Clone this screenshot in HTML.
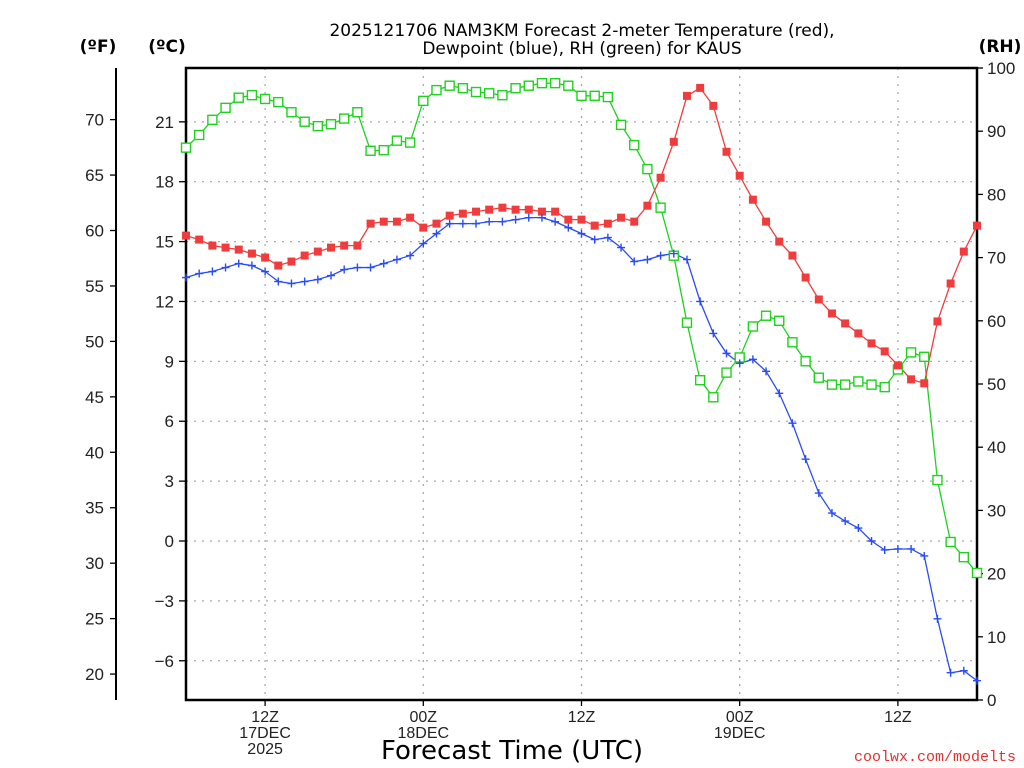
<!DOCTYPE html>
<html><head><meta charset="utf-8"><style>
html,body{margin:0;padding:0;background:#fff;}
svg{display:block;font-family:"DejaVu Sans","Liberation Sans",sans-serif;}
</style></head><body>
<svg id="chart" width="1024" height="768" viewBox="0 0 1024 768" xmlns="http://www.w3.org/2000/svg">
<text x="582" y="36" text-anchor="middle" font-size="17" fill="#000">2025121706 NAM3KM Forecast 2-meter Temperature (red),</text>
<text x="582" y="54" text-anchor="middle" font-size="17" fill="#000">Dewpoint (blue), RH (green) for KAUS</text>
<text x="98" y="52" text-anchor="middle" font-size="17" font-weight="bold">(ºF)</text>
<text x="167" y="52" text-anchor="middle" font-size="17" font-weight="bold">(ºC)</text>
<text x="1000" y="52" text-anchor="middle" font-size="17" font-weight="bold">(RH)</text>
<text x="512" y="759" text-anchor="middle" font-size="26" fill="#000">Forecast Time (UTC)</text>
<text x="1016" y="761" text-anchor="end" font-size="15" fill="#e03030" font-family="Liberation Mono, monospace">coolwx.com/modelts</text>
<g id="grid"></g>
<g id="axes" font-family="Liberation Sans, sans-serif"></g>
<g id="series"></g>
</svg>
<script>
const tempC = [15.3,15.1,14.8,14.7,14.6,14.4,14.2,13.8,14.0,14.3,14.5,14.7,14.8,14.8,15.9,16.0,16.0,16.2,15.7,15.9,16.3,16.4,16.5,16.6,16.7,16.6,16.6,16.5,16.5,16.1,16.1,15.8,15.9,16.2,16.0,16.8,18.2,20.0,22.3,22.7,21.8,19.5,18.3,17.1,16.0,15.0,14.3,13.2,12.1,11.4,10.9,10.4,9.9,9.5,8.8,8.1,7.9,11.0,12.9,14.5,15.8];
const dewC = [13.2,13.4,13.5,13.7,13.9,13.8,13.5,13.0,12.9,13.0,13.1,13.3,13.6,13.7,13.7,13.9,14.1,14.3,14.9,15.4,15.9,15.9,15.9,16.0,16.0,16.1,16.2,16.2,16.0,15.7,15.4,15.1,15.2,14.7,14.0,14.1,14.3,14.4,14.1,12.0,10.4,9.4,8.9,9.1,8.5,7.4,5.9,4.1,2.4,1.4,1.0,0.65,0.0,-0.45,-0.4,-0.4,-0.75,-3.9,-6.6,-6.5,-7.0];
const rh = [87.4,89.4,91.8,93.7,95.3,95.7,95.1,94.6,93.0,91.5,90.8,91.1,92.0,93.0,86.9,87.0,88.5,88.2,94.8,96.5,97.2,96.8,96.2,96.0,95.7,96.8,97.2,97.6,97.6,97.2,95.6,95.6,95.4,91.0,87.8,84.0,77.9,70.3,59.7,50.6,47.9,51.8,54.2,59.1,60.8,60.0,56.6,53.6,51.0,49.9,49.9,50.4,49.9,49.5,52.3,55.0,54.3,34.8,25.0,22.6,20.1];
const cTicks = [21,18,15,12,9,6,3,0,-3,-6];
const fTicks = [70,65,60,55,50,45,40,35,30,25,20];
const rhTicks = [100,90,80,70,60,50,40,30,20,10,0];
const timeTicks = [6,18,30,42,54];
const timeLabels = [["12Z","17DEC","2025"],["00Z","18DEC"],["12Z"],["00Z","19DEC"],["12Z"]];

const X0=186,X1=977,Y0=68,Y1=700;
const xS = h => X0 + (X1-X0)*h/60;
const yC = c => 541 - 19.96*c;
const yRH = r => Y1 - (Y1-Y0)*r/100;
const fToC = f => (f-32)*5/9;
const NS="http://www.w3.org/2000/svg";
function mk(tag, attrs, parent){const e=document.createElementNS(NS,tag);for(const k in attrs)e.setAttribute(k,attrs[k]);parent.appendChild(e);return e;}
const grid=document.getElementById('grid'), axes=document.getElementById('axes'), series=document.getElementById('series');

cTicks.forEach(c=>{
  const y=yC(c);
  const g=mk('line',{x1:X0,x2:X1,y1:y,y2:y,stroke:'#aaa','stroke-dasharray':'2 6','stroke-width':1.3},grid);
  
  
  const t=mk('line',{x1:X0-7,x2:X0,y1:y,y2:y,stroke:'#000','stroke-width':1.3},axes);
  
  
  const l=mk('text',{x:X0-12,y:y+6,'text-anchor':'end','font-size':17,fill:'#222'},axes);
  l.textContent=(c<0?'\u2212'+(-c):c);
  
  
});
timeTicks.forEach((h,i)=>{
  const x=xS(h);
  const g=mk('line',{x1:x,x2:x,y1:Y0,y2:Y1,stroke:'#aaa','stroke-dasharray':'2 6','stroke-width':1.3},grid);
  
  
  const t=mk('line',{x1:x,x2:x,y1:Y1,y2:Y1+6,stroke:'#000','stroke-width':1.3},axes);
  
  
  timeLabels[i].forEach((s,j)=>{
    const l=mk('text',{x:x,y:722+j*16,'text-anchor':'middle','font-size':16,fill:'#222'},axes);
    l.textContent=s;
    
    
  });
});
fTicks.forEach(f=>{
  const y=yC(fToC(f));
  const t=mk('line',{x1:110,x2:116,y1:y,y2:y,stroke:'#000','stroke-width':1.3},axes);
  
  
  const l=mk('text',{x:104,y:y+6,'text-anchor':'end','font-size':17,fill:'#222'},axes);
  l.textContent=f;
  
  
});
rhTicks.forEach(r=>{
  const y=yRH(r);
  const t=mk('line',{x1:X1,x2:X1+6,y1:y,y2:y,stroke:'#000','stroke-width':1.3},axes);
  
  
  const l=mk('text',{x:X1+10,y:y+6,'text-anchor':'start','font-size':17,fill:'#222'},axes);
  l.textContent=r;
  
  
});
const fax=mk('line',{x1:116,x2:116,y1:Y0,y2:Y1,stroke:'#000','stroke-width':2},axes);


const box=mk('rect',{x:X0,y:Y0,width:X1-X0,height:Y1-Y0,fill:'none',stroke:'#000','stroke-width':2.5},axes);



function line(vals,yf,color,name){
  const p=mk('polyline',{points:vals.map((v,i)=>xS(i)+','+yf(v)).join(' '),fill:'none',stroke:color,'stroke-width':1.3},series);
  
  
}
line(rh,yRH,'#1ed21e','rh');
line(tempC,yC,'#f03c3c','temperature');
line(dewC,yC,'#2a4cf5','dewpoint');
rh.forEach((v,i)=>{
  const m=mk('rect',{x:xS(i)-4.5,y:yRH(v)-4.5,width:9,height:9,fill:'#fff',stroke:'#1ed21e','stroke-width':1.4},series);
  
  
});
tempC.forEach((v,i)=>{
  const m=mk('rect',{x:xS(i)-4,y:yC(v)-4,width:8,height:8,fill:'#f03c3c'},series);
  
  
});
dewC.forEach((v,i)=>{
  const x=xS(i),y=yC(v);
  const m=mk('path',{d:`M${x-4},${y}H${x+4}M${x},${y-4}V${y+4}`,stroke:'#2a4cf5','stroke-width':1.4},series);
  
  
});
</script>
</body></html>
